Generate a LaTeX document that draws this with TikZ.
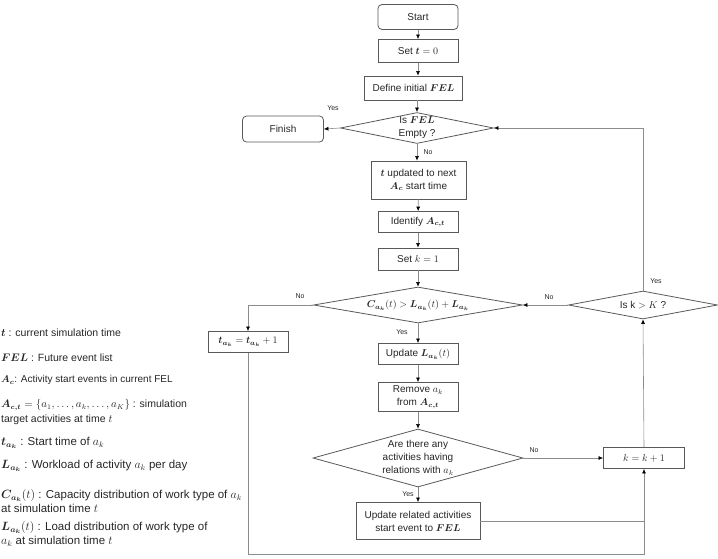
\documentclass[tikz,border=0pt]{standalone}
\usepackage[no-math]{fontspec}
\setmainfont{Liberation Sans}
\usepackage{amsmath}
\usepackage{bm}
\usetikzlibrary{shapes.geometric,arrows.meta}

\begin{document}
\begin{tikzpicture}[x=1pt, y=-1pt, font=\fontsize{10}{13}\selectfont, text=black!85,
        box/.style={draw=black!65, line width=0.8pt, inner sep=0pt, align=center},
        term/.style={box, rounded corners=4pt},
        decide/.style={draw=black!65, line width=0.8pt, diamond, inner sep=0pt},
        flow/.style={draw=black!45, line width=0.6pt, -{Latex[length=4.5pt,width=4pt,color=black]}},
        link/.style={draw=black!45, line width=0.6pt},
        yn/.style={font=\fontsize{7}{8}\selectfont, inner sep=0pt},
        note/.style={anchor=west, align=left, inner xsep=1pt, inner ysep=0pt},
        bignote/.style={note, font=\fontsize{11.5}{14}\selectfont}]
        \useasboundingbox (0,0) rectangle (718,558);
        % main column
        \node [term, minimum width=80, minimum height=25]  (start)  at (418,17)    {Start};
        \node [box, minimum width=80, minimum height=23]   (set0)   at (418,51)    {Set $\bm{t} = 0$};
        \node [box, minimum width=98, minimum height=24]   (defel)  at (413.5,88)  {Define initial $\bm{FEL}$};
        \node [decide, minimum width=153, minimum height=31,
               label={[align=center, inner sep=0pt]center:Is $\bm{FEL}$\\Empty ?}] (fel) at (417,128) {};
        \node [term, minimum width=81, minimum height=26]  (finish) at (283,129)   {Finish};
        \node [box, minimum width=95, minimum height=38]   (tupd)   at (418.5,180) {$\bm{t}$ updated to next\\$\bm{A_c}$ start time};
        \node [box, minimum width=80, minimum height=21]   (ident)  at (418,222)   {Identify $\bm{A_{c,t}}$};
        \node [box, minimum width=80, minimum height=22]   (setk)   at (418,259)   {Set $k = 1$};
        \node [decide, minimum width=209, minimum height=36,
               label={[inner sep=0pt]center:$\bm{C_{a_k}}(t) > \bm{L_{a_k}}(t) + \bm{L_{a_k}}$}] (cap) at (418,305) {};
        \node [box, minimum width=80, minimum height=21]   (tinc)   at (248,342)   {$\bm{t_{a_k}} = \bm{t_{a_k}} + 1$};
        \node [box, minimum width=80, minimum height=21]   (updL)   at (418,354)   {Update $\bm{L_{a_k}}(t)$};
        \node [box, minimum width=80, minimum height=29]   (remove) at (418,397)   {Remove $a_k$\\from $\bm{A_{c,t}}$};
        \node [decide, minimum width=210, minimum height=58,
               label={[align=center, inner sep=0pt]center:Are there any\\activities having\\relations with $a_k$}] (rel) at (418,458) {};
        \node [box, minimum width=124, minimum height=37]  (updrel) at (418,521)   {Update related activities\\start event to $\bm{FEL}$};
        % right column
        \node [box, minimum width=81, minimum height=21]   (kinc)   at (644,458)   {$k = k + 1$};
        \node [decide, minimum width=149, minimum height=28,
               label={[inner sep=0pt]center:Is k $>$ $K$ ?}] (iskK) at (643,305) {};
        \coordinate (low) at (0,554);                                             %bottom run
        % connectors
        \draw [flow] (start) -- (set0);                                           %
        \draw [flow] (set0.south) -- (set0.south |- defel.north);                 %
        \draw [flow] (fel.north |- defel.south) -- (fel.north);                   %
        \draw [flow] (fel.west) -- (finish.east);                                 %Yes
        \draw [flow] (fel.south) -- (fel.south |- tupd.north);                    %No
        \draw [flow] (tupd) -- (ident);                                           %
        \draw [flow] (ident) -- (setk);                                           %
        \draw [flow] (setk) -- (cap);                                             %
        \draw [flow] (cap.west) -| (tinc.north);                                  %No
        \draw [flow] (cap) -- (updL);                                             %Yes
        \draw [flow] (updL) -- (remove);                                          %
        \draw [flow] (remove) -- (rel);                                           %
        \draw [flow] (rel.east) -- (kinc.west);                                   %No
        \draw [flow] (rel) -- (updrel);                                           %Yes
        \draw [link] (updrel.east) -- (updrel.east -| kinc.south);                %
        \draw [flow] (tinc.south) |- (low -| kinc.south) -- (kinc.south);         %
        \draw [flow] (kinc.north) -- (iskK.south);                                %
        \draw [flow] (iskK.west) -- (cap.east);                                   %No
        \draw [flow] (iskK.north) |- (fel.east);                                  %Yes
        % yes / no
        \node [yn] (y1) at (333,108) {Yes};
        \node [yn] (n1) at (428,152) {No};
        \node [yn] (n2) at (300,296) {No};
        \node [yn] (y2) at (402,332) {Yes};
        \node [yn] (n3) at (534,450) {No};
        \node [yn] (y3) at (408,494) {Yes};
        \node [yn] (n4) at (549,297) {No};
        \node [yn] (y4) at (656,281) {Yes};
        % legend
        \node [note, font=\fontsize{10.5}{13}\selectfont] (d1) at (0,333) {$\bm{t}$ : current simulation time};
        \node [note, font=\fontsize{10.5}{13}\selectfont] (d2) at (0,358) {$\bm{FEL}$ : Future event list};
        \node [note] (d3) at (0,380) {$\bm{A_c}$: Activity start events in current FEL};
        \node [note, font=\fontsize{10.5}{15}\selectfont] (d4) at (0,412) {$\bm{A_{c,t}} = \{a_1, \ldots, a_k, \ldots, a_K\}$ : simulation\\target activities at time $t$};
        \node [bignote] (d5) at (0,443) {$\bm{t_{a_k}}$ : Start time of $a_k$};
        \node [bignote] (d6) at (0,466) {$\bm{L_{a_k}}$ : Workload of activity $a_k$ per day};
        \node [bignote] (d7) at (0,501) {$\bm{C_{a_k}}(t)$ : Capacity distribution of work type of $a_k$\\at simulation time $t$};
        \node [bignote] (d8) at (0,534) {$\bm{L_{a_k}}(t)$ : Load distribution of work type of\\$a_k$ at simulation time $t$};
\end{tikzpicture}
\end{document}
